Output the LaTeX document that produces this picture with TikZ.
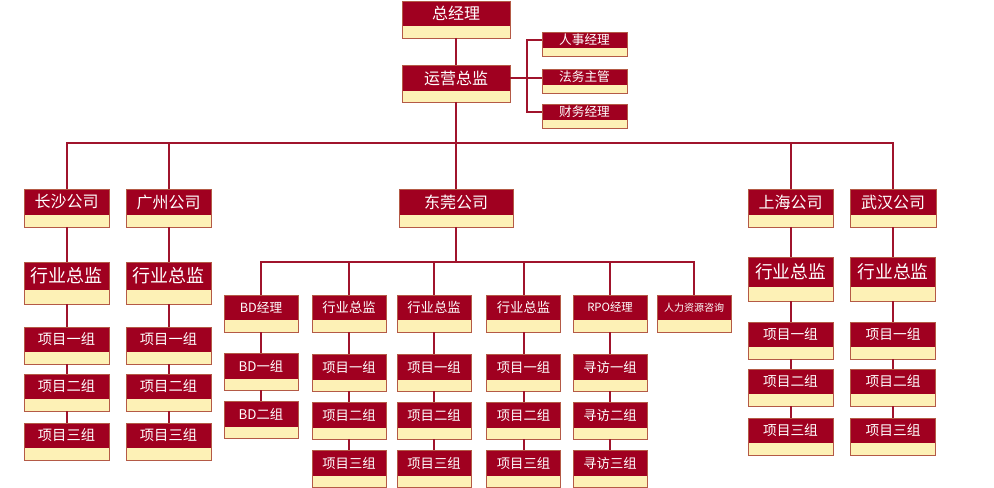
\documentclass[tikz,border=0pt]{standalone}
\usepackage{fontspec}
\newfontfamily\cjk{Noto Sans CJK SC}
\usetikzlibrary{positioning, calc}

\definecolor{orgred}{HTML}{A00020}
\definecolor{orgyel}{HTML}{FDF1B6}
\definecolor{orgbd}{HTML}{B45A46}
\definecolor{orgln}{HTML}{A0142C}

% box: name, x, y(top), width, red height, strip height, font size, text
\newcommand\obox[8]{%
  \node[hd, minimum width=#4*0.75pt, minimum height=#5*0.75pt,
        font={\cjk\fontsize{#7}{#7}\selectfont}] (#1) at (#2,#3) {#8};
  \node[ft, minimum width=#4*0.75pt, minimum height=#6*0.75pt] (#1-y) at (#1.south) {};
  \draw[bd] (#1.north west) rectangle (#1-y.south east);
}

\begin{document}
\begin{tikzpicture}[
    x=0.75pt, y=-0.75pt,
    hd/.style={anchor=north, fill=orgred, text=white, inner sep=0pt, outer sep=0pt},
    ft/.style={anchor=north, fill=orgyel, inner sep=0pt, outer sep=0pt},
    bd/.style={draw=orgbd, line width=0.7pt},
    ln/.style={draw=orgln, line width=1.5pt}
  ]
    \useasboundingbox (0,0) rectangle (994,488);
    % ---- 总部 ----
    \obox{zjl}{456}{1}{108}{25}{12}{12pt}{总经理}
    \obox{yyzj}{456}{65}{108}{26}{11}{12pt}{运营总监}
    \obox{rs}{584.5}{32}{85}{16}{8}{9.5pt}{人事经理}
    \obox{fw}{584.5}{69}{85}{16}{8}{9.5pt}{法务主管}
    \obox{cw}{584.5}{104}{85}{16}{8}{9.5pt}{财务经理}
    % ---- 分公司 ----
    \obox{cs}{66.5}{189}{85}{26}{12}{12pt}{长沙公司}
    \obox{gz}{168.5}{189}{85}{26}{12}{12pt}{广州公司}
    \obox{dg}{456}{189}{114}{26}{12}{12pt}{东莞公司}
    \obox{sh}{790.5}{189}{85}{26}{12}{12pt}{上海公司}
    \obox{wh}{893}{189}{86}{26}{12}{12pt}{武汉公司}
    % ---- 长沙 / 广州 ----
    \foreach \c/\x in {cs/66.5, gz/168.5} {
      \obox{\c0}{\x}{262}{85}{28}{14}{13.5pt}{行业总监}
      \foreach \i/\n/\y in {1/一/327, 2/二/374, 3/三/423} {
        \obox{\c\i}{\x}{\y}{85}{25}{12}{10.7pt}{项目\n 组}
      }
    }
    % ---- 上海 / 武汉 ----
    \foreach \c/\x in {sh/790.5, wh/893} {
      \obox{\c0}{\x}{257}{85}{30}{14}{13.3pt}{行业总监}
      \foreach \i/\n/\y in {1/一/322, 2/二/369, 3/三/418} {
        \obox{\c\i}{\x}{\y}{85}{25}{12}{10.3pt}{项目\n 组}
      }
    }
    % ---- 东莞 ----
    \obox{dA}{261}{295}{74}{25}{12}{9.5pt}{BD经理}
    \obox{dA1}{261}{353}{74}{26}{11}{10pt}{BD一组}
    \obox{dA2}{261}{401}{74}{26}{11}{10pt}{BD二组}
    \foreach \c/\x in {dB/349, dC/434, dD/523.5} {
      \obox{\c}{\x}{295}{74}{25}{12}{10pt}{行业总监}
      \foreach \i/\n/\y in {1/一/354, 2/二/402, 3/三/450} {
        \obox{\c\i}{\x}{\y}{74}{26}{11}{10pt}{项目\n 组}
      }
    }
    \obox{dE}{610}{295}{74}{25}{12}{8.5pt}{RPO经理}
    \foreach \i/\n/\y in {1/一/354, 2/二/402, 3/三/450} {
      \obox{dE\i}{610}{\y}{74}{26}{11}{10pt}{寻访\n 组}
    }
    \obox{dF}{694}{295}{74}{25}{12}{7.5pt}{人力资源咨询}
    % ---- 连线 ----
    \coordinate (bus) at (456,143);
    \coordinate (dbus) at (456,262);
    \draw[ln] (zjl-y.south) -- (yyzj.north);
    \draw[ln] (yyzj.east) -- (yyzj.east -| fw.west);
    \draw[ln] (rs.west) -- ++(-15,0) |- (cw.west);
    \draw[ln] (yyzj-y.south) -- (dg.north);
    \draw[ln] (cs.north) -- (cs.north |- bus) -- (wh.north |- bus) -- (wh.north);
    \foreach \m in {gz, sh} {
      \draw[ln] (\m.north) -- (\m.north |- bus);
    }
    \draw[ln] (dg-y.south) -- (dbus);
    \draw[ln] (dA.north) -- (dA.north |- dbus) -- (dF.north |- dbus) -- (dF.north);
    \foreach \m in {dB, dC, dD, dE} {
      \draw[ln] (\m.north) -- (\m.north |- dbus);
    }
    \foreach \c in {cs, gz, sh, wh} {
      \draw[ln] (\c-y.south) -- (\c0.north);
      \draw[ln] (\c0-y.south) -- (\c1.north);
      \draw[ln] (\c1-y.south) -- (\c2.north);
      \draw[ln] (\c2-y.south) -- (\c3.north);
    }
    \draw[ln] (dA-y.south) -- (dA1.north);
    \draw[ln] (dA1-y.south) -- (dA2.north);
    \foreach \c in {dB, dC, dD, dE} {
      \draw[ln] (\c-y.south) -- (\c1.north);
      \draw[ln] (\c1-y.south) -- (\c2.north);
      \draw[ln] (\c2-y.south) -- (\c3.north);
    }
\end{tikzpicture}
\end{document}
